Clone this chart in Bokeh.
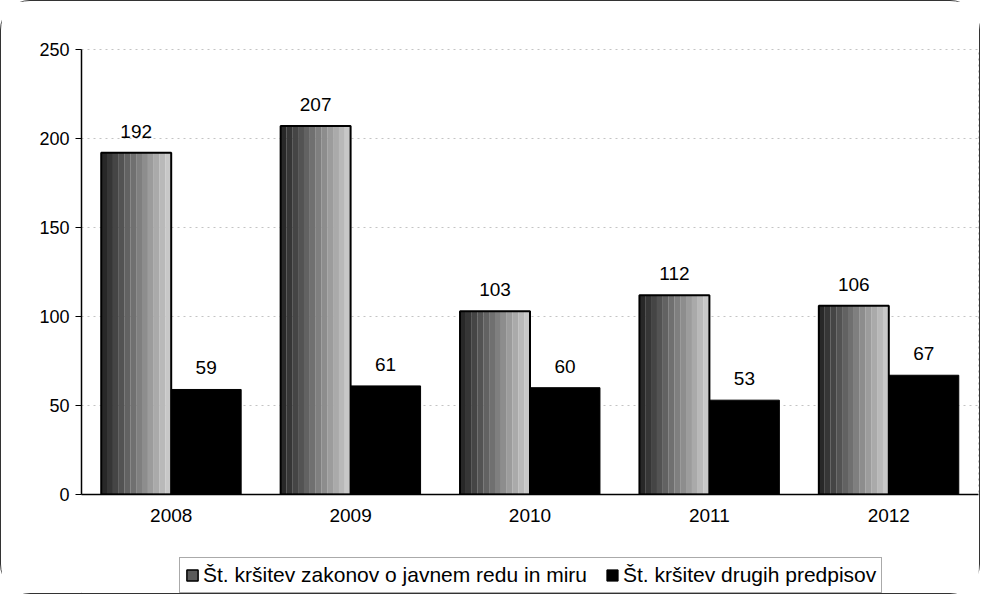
from bokeh.plotting import figure
from bokeh.layouts import column
from bokeh.models import (ColumnDataSource, FactorRange, FixedTicker, Legend, LegendItem,
                          Range1d)
from bokeh.transform import dodge
from bokeh.core.properties import value
from bokeh.embed import file_html
from bokeh.resources import INLINE

years = ["2008", "2009", "2010", "2011", "2012"]
javni_red = [192, 207, 103, 112, 106]
drugi = [59, 61, 60, 53, 67]
y_ticks = [0, 50, 100, 150, 200, 250]
series_names = ["Št. kršitev zakonov o javnem redu in miru", "Št. kršitev drugih predpisov"]

src = ColumnDataSource(dict(x=years, a=javni_red, b=drugi,
                            a_lab=[str(v) for v in javni_red],
                            b_lab=[str(v) for v in drugi]))

FONT = "Liberation Sans"
p = figure(x_range=FactorRange(*years), y_range=Range1d(0, 250),
           width=978, height=545, output_backend="svg", toolbar_location=None,
           min_border_left=80, min_border_right=1, min_border_top=48, min_border_bottom=52)

bw = 0.39
off = bw / 2
n = 12
shades = []
for k in range(n):
    t = k / (n - 1)
    g = int(40 + t * 160)
    shades.append("#%02x%02x%02x" % (g, g, g))
sw = bw / n
for k in range(n):
    p.vbar(x=dodge("x", -off - bw / 2 + (k + 0.5) * sw, range=p.x_range), top="a",
           width=sw * 1.02, source=src, fill_color=shades[k], line_color=None)
p.vbar(x=dodge("x", -off, range=p.x_range), top="a", width=bw, source=src,
       fill_color=None, line_color="black", line_width=2)
p.vbar(x=dodge("x", off, range=p.x_range), top="b", width=bw, source=src,
       fill_color="black", line_color="black", line_width=1)

for col, lab, o in (("a", "a_lab", -off), ("b", "b_lab", off)):
    p.text(x=dodge("x", o, range=p.x_range), y=col, text=lab, source=src,
           text_align="center", text_baseline="bottom", y_offset=-15,
           text_font=value(FONT), text_font_size="19px", text_color="black")

p.xgrid.grid_line_color = None
p.ygrid.ticker = FixedTicker(ticks=y_ticks)
p.ygrid.grid_line_color = "#c4c4c4"
p.ygrid.grid_line_dash = "2 4"
p.outline_line_color = "#c4c4c4"
p.outline_line_dash = "2 4"

p.yaxis.ticker = FixedTicker(ticks=y_ticks)
p.yaxis.major_tick_out = 6
p.yaxis.major_tick_in = 0
p.yaxis.minor_tick_line_color = None
p.yaxis.axis_line_color = "black"
p.yaxis.axis_line_width = 1.5
p.xaxis.major_tick_out = 0
p.xaxis.major_tick_in = 0
p.xaxis.axis_line_color = "black"
p.xaxis.axis_line_width = 1.5
for ax in (p.xaxis, p.yaxis):
    ax.major_label_text_font = FONT
    ax.major_label_text_font_size = "18px"
    ax.major_label_text_color = "black"
p.xaxis.major_label_text_font_size = "19px"
p.xaxis.major_label_standoff = 14
p.yaxis.major_label_standoff = 6

# legend strip below the chart (swatch renderers sit outside its visible range)
q = figure(width=978, height=47, output_backend="svg", toolbar_location=None,
           x_range=Range1d(0, 1), y_range=Range1d(0, 1),
           x_axis_type=None, y_axis_type=None,
           min_border_left=0, min_border_right=0, min_border_top=0, min_border_bottom=0)
q.grid.visible = False
q.outline_line_color = None
d1 = q.vbar(x=[-5], top=[-5], width=0.1, fill_color="#5a5a5a", line_color="black",
            line_width=1.5)
d2 = q.vbar(x=[-5], top=[-5], width=0.1, fill_color="black", line_color="black")
leg = Legend(items=[LegendItem(label=series_names[0], renderers=[d1]),
                    LegendItem(label=series_names[1], renderers=[d2])],
             orientation="horizontal", location=(98, 0),
             label_text_font=FONT, label_text_font_size="21px", label_text_color="black",
             glyph_width=14, glyph_height=14, label_standoff=4, spacing=18,
             padding=5, margin=0, border_line_color="#555", border_line_width=1,
             background_fill_alpha=1)
q.add_layout(leg, "center")

layout = column(p, q, spacing=0,
                styles={"border": "1.5px solid #333", "border-radius": "30px",
                        "box-sizing": "border-box"})

open("out.html", "w").write(file_html(layout, INLINE))
